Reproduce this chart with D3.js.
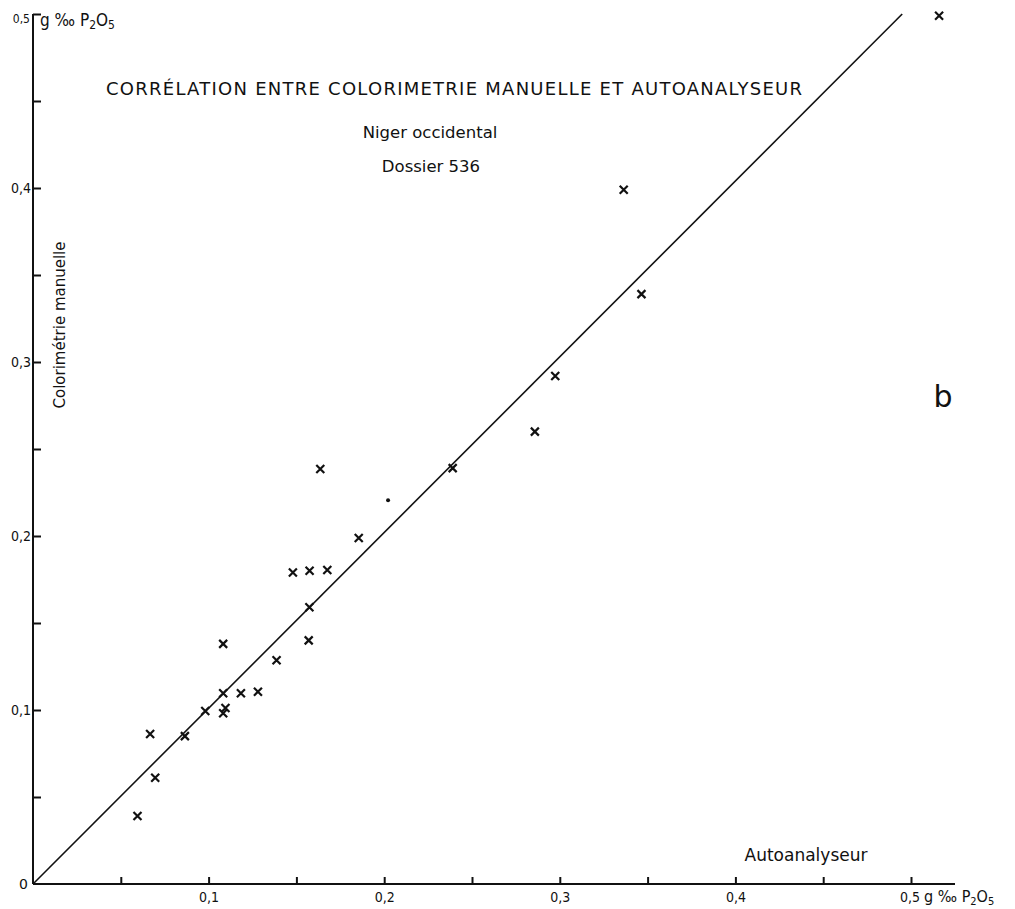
<!DOCTYPE html>
<html>
<head>
<meta charset="utf-8">
<script src="https://cdn.jsdelivr.net/npm/d3@7"></script>
<style>
  body { margin: 0; background: #fff; }
  svg text { font-family: "DejaVu Sans", sans-serif; fill: #111; }
</style>
</head>
<body>
<svg id="chart" width="1015" height="909"></svg>
<script>
// values (g ‰ P2O5)
var autoValues   = [0.0595, 0.0667, 0.0696, 0.0865, 0.0981, 0.1083, 0.1083, 0.1096, 0.1083, 0.1184,
                    0.1281, 0.1387, 0.1570, 0.1574, 0.1480, 0.1575, 0.1676, 0.1636, 0.1855, 0.2390,
                    0.2858, 0.2974, 0.3364, 0.3465, 0.5160];
var manualValues = [0.0391, 0.0862, 0.0611, 0.0850, 0.0994, 0.1096, 0.0981, 0.1011, 0.1380, 0.1096,
                    0.1105, 0.1286, 0.1400, 0.1590, 0.1790, 0.1800, 0.1805, 0.2385, 0.1989, 0.2390,
                    0.2600, 0.2920, 0.3990, 0.3390, 0.4990];
// one point drawn as a plain dot
var dotAuto = [0.2022], dotManual = [0.2205];

// 1:1 line
var lineAuto = [0, 0.495], lineManual = [0, 0.5];

var xTicks = [0.05, 0.1, 0.15, 0.2, 0.25, 0.3, 0.35, 0.4, 0.45, 0.5];
var xTickLabels = ["0,1", "0,2", "0,3", "0,4"];
var yTicks = [0.05, 0.1, 0.15, 0.2, 0.25, 0.3, 0.35, 0.4, 0.45, 0.5];
var yTickLabels = ["0,1", "0,2", "0,3", "0,4"];

var svg = d3.select('#chart'),
    x = d3.scaleLinear().domain([0, 0.5]).range([33, 911]),
    y = d3.scaleLinear().domain([0, 0.5]).range([884, 14]);

// x axis: ticks pointing up, labels under
var gx = svg.append("g").attr("transform", "translate(0," + y(0) + ")");
gx.call(d3.axisBottom(x).tickValues(xTicks).tickSize(-7).tickFormat(""));
gx.append("g").call(d3.axisBottom(x).tickValues([0.1, 0.2, 0.3, 0.4]).tickSize(0).tickPadding(8)
    .tickFormat(function(d, i) { return xTickLabels[i]; }));
gx.selectAll(".domain").remove();
gx.append("line").attr("x1", x(0)).attr("x2", 955).attr("stroke", "#111").attr("stroke-width", 2);

// y axis: ticks pointing right, labels left
var gy = svg.append("g").attr("transform", "translate(" + x(0) + ",0)");
gy.call(d3.axisRight(y).tickValues(yTicks).tickSize(8).tickFormat(""));
gy.append("g").call(d3.axisLeft(y).tickValues([0.1, 0.2, 0.3, 0.4]).tickSize(0).tickPadding(2)
    .tickFormat(function(d, i) { return yTickLabels[i]; }));
gy.selectAll(".domain").remove();
gy.append("line").attr("y1", y(0)).attr("y2", y(0.5)).attr("stroke", "#111").attr("stroke-width", 2);

svg.selectAll(".tick line").attr("stroke", "#111").attr("stroke-width", 2);
svg.selectAll(".tick text").attr("font-size", 14).style("font-size", "14px")
   .style("font-family", "DejaVu Sans Condensed, DejaVu Sans").attr("fill", "#111");

// origin label
svg.append("text").attr("x", x(0) - 5).attr("y", y(0) + 5).attr("text-anchor", "end")
   .style("font-size", "14px").text("0");

// unit labels
var xu = svg.append("text").attr("x", x(0.5) - 11).attr("y", y(0) + 18).style("font-size", "14px")
   .style("font-family", "DejaVu Sans Condensed, DejaVu Sans");
xu.append("tspan").text("0,5 ");
xu.append("tspan").style("font-size", "16px").text("g ‰ P");
xu.append("tspan").attr("dy", 3).style("font-size", "11px").text("2");
xu.append("tspan").attr("dy", -3).style("font-size", "16px").text("O");
xu.append("tspan").attr("dy", 3).style("font-size", "11px").text("5");

svg.append("text").attr("x", x(0) - 3).attr("y", y(0.5) + 9).attr("text-anchor", "end")
   .style("font-size", "12px").style("font-family", "DejaVu Sans Condensed, DejaVu Sans").text("0,5");
var yu = svg.append("text").attr("x", x(0) + 7).attr("y", y(0.5) + 12).style("font-size", "17px")
   .style("font-family", "DejaVu Sans Condensed, DejaVu Sans");
yu.append("tspan").text("g ‰ P");
yu.append("tspan").attr("dy", 3).style("font-size", "12px").text("2");
yu.append("tspan").attr("dy", -3).style("font-size", "17px").text("O");
yu.append("tspan").attr("dy", 3).style("font-size", "12px").text("5");

// 1:1 line
svg.append("path")
   .datum(d3.zip(lineAuto, lineManual))
   .attr("fill", "none").attr("stroke", "#111").attr("stroke-width", 1.6)
   .attr("d", d3.line().x(function(d) { return x(d[0]); }).y(function(d) { return y(d[1]); }));

// crosses
svg.append("g").selectAll("path")
   .data(d3.zip(autoValues, manualValues))
   .enter().append("path")
   .attr("transform", function(d) { return "translate(" + x(d[0]) + "," + y(d[1]) + ")"; })
   .attr("d", "M-4,-4L4,4M-4,4L4,-4")
   .attr("stroke", "#111").attr("stroke-width", 2.2);

svg.append("g").selectAll("circle")
   .data(d3.zip(dotAuto, dotManual))
   .enter().append("circle")
   .attr("cx", function(d) { return x(d[0]); })
   .attr("cy", function(d) { return y(d[1]); })
   .attr("r", 2).attr("fill", "#111");

// titles
svg.append("text").attr("x", 106).attr("y", 95).attr("textLength", 696).attr("lengthAdjust", "spacing")
   .style("font-size", "18px").text("CORRÉLATION ENTRE COLORIMETRIE MANUELLE ET AUTOANALYSEUR");
svg.append("text").attr("x", 430).attr("y", 138).attr("text-anchor", "middle")
   .style("font-size", "16.5px").text("Niger occidental");
svg.append("text").attr("x", 431).attr("y", 172).attr("text-anchor", "middle")
   .style("font-size", "16.5px").text("Dossier 536");

svg.append("text").attr("transform", "translate(65,325) rotate(-90)").attr("text-anchor", "middle")
   .style("font-size", "15px").text("Colorimétrie manuelle");
svg.append("text").attr("x", 806).attr("y", 861).attr("text-anchor", "middle")
   .style("font-size", "17px").text("Autoanalyseur");

svg.append("text").attr("x", 943).attr("y", 407).attr("text-anchor", "middle")
   .style("font-size", "30px").text("b");
</script>
</body>
</html>
